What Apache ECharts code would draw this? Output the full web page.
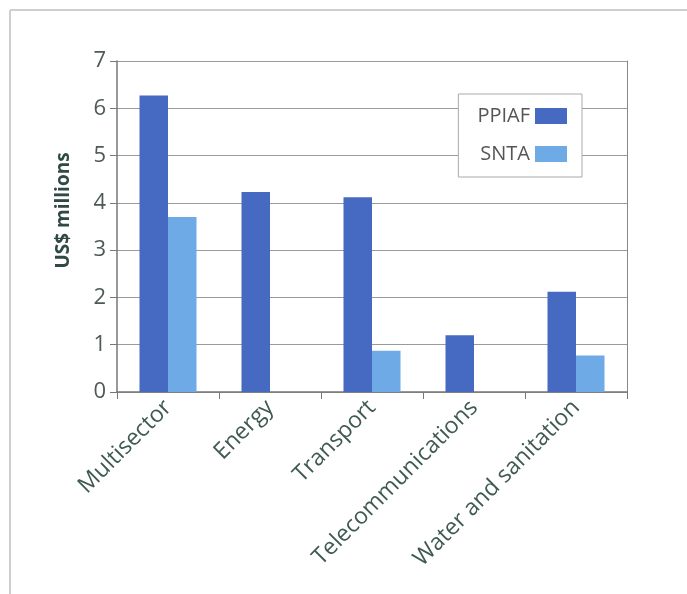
<!DOCTYPE html>
<html>
<head>
<meta charset="utf-8">
<script src="https://cdn.jsdelivr.net/npm/echarts@6/dist/echarts.min.js"></script>
<style>
html,body{margin:0;padding:0;background:#fff;}
#c{width:687px;height:594px;}
</style>
</head>
<body>
<div id="c"></div>
<script>
const categories = ['Multisector', 'Energy', 'Transport', 'Telecommunications', 'Water and sanitation'];
const ppiaf = [6.27, 4.23, 4.12, 1.2, 2.12];
const snta = [3.7, null, 0.87, null, 0.77];
const yTicks = [0, 1, 2, 3, 4, 5, 6, 7];

const chart = echarts.init(document.getElementById('c'));
const font = 'Open Sans';
chart.setOption({
  animation: false,
  backgroundColor: '#fff',
  graphic: [
    {type: 'line', shape: {x1: 10, y1: 10, x2: 687, y2: 10}, style: {stroke: '#cfcfcf', lineWidth: 2}},
    {type: 'line', shape: {x1: 10, y1: 10, x2: 10, y2: 594}, style: {stroke: '#cfcfcf', lineWidth: 2}}
  ],
  grid: {left: 117, right: 60, top: 61, bottom: 202, containLabel: false},
  legend: {
    orient: 'vertical',
    right: 105, top: 94,
    align: 'right',
    icon: 'rect',
    padding: [12, 15, 13, 19],
    itemWidth: 32, itemHeight: 16, itemGap: 18,
    backgroundColor: '#fff',
    borderColor: '#aaa', borderWidth: 1,
    textStyle: {fontFamily: font, fontSize: 20, color: '#555'},
    data: ['PPIAF', 'SNTA']
  },
  xAxis: {
    type: 'category',
    data: categories,
    axisLine: {lineStyle: {color: '#777', width: 1.5}},
    axisTick: {show: true, length: 7, lineStyle: {color: '#777'}},
    axisLabel: {rotate: 45, interval: 0, fontFamily: font, fontSize: 23, color: '#3f5a52', margin: 12}
  },
  yAxis: [{
    type: 'value',
    min: 0, max: 7, interval: 1,
    name: 'US$ millions',
    nameLocation: 'middle',
    nameGap: 44,
    nameTextStyle: {fontFamily: font, fontSize: 19, fontWeight: 'bold', color: '#2f4a44', padding: [0, 0, 0, 32]},
    axisLine: {show: true, lineStyle: {color: '#777', width: 1.5}},
    axisTick: {show: true, length: 7, lineStyle: {color: '#777'}},
    axisLabel: {fontFamily: font, fontSize: 22, color: '#4d5a56', margin: 11,
      formatter: v => yTicks.includes(v) ? String(v) : ''},
    splitLine: {lineStyle: {color: '#9a9a9a', width: 1}}
  }, {
    type: 'value', min: 0, max: 7, interval: 1, position: 'right',
    axisLine: {show: true, lineStyle: {color: '#888', width: 1}},
    axisTick: {show: false}, axisLabel: {show: false}, splitLine: {show: false}
  }],
  series: [
    {name: 'PPIAF', type: 'bar', data: ppiaf, barWidth: 28.5, barGap: '0%', itemStyle: {color: '#4669c2'}},
    {name: 'SNTA', type: 'bar', data: snta, barWidth: 28.5, barGap: '0%', itemStyle: {color: '#6eaae6'}}
  ]
});
</script>
</body>
</html>
